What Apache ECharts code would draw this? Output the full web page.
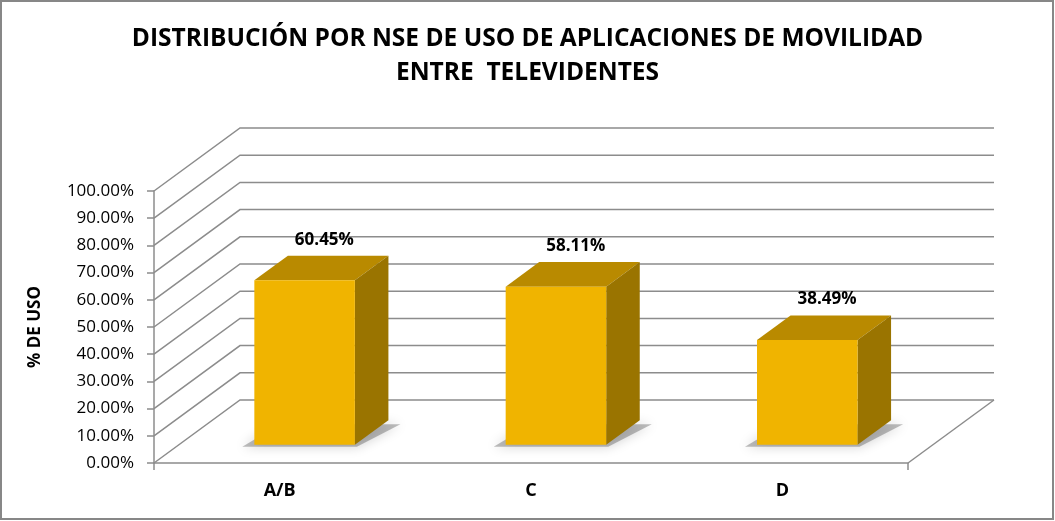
<!DOCTYPE html>
<html>
<head>
<meta charset="utf-8">
<script src="https://cdn.jsdelivr.net/npm/echarts@6/dist/echarts.min.js"></script>
<style>
  html, body { margin: 0; padding: 0; background: #fff; }
  #chart { width: 1055px; height: 521px; }
</style>
</head>
<body>
<div id="chart"></div>
<script>
// datos
var categorias = ['A/B', 'C', 'D'];
var valores = [0.6045, 0.5811, 0.3849];
var marcas = [0, 0.1, 0.2, 0.3, 0.4, 0.5, 0.6, 0.7, 0.8, 0.9, 1.0];

// perspectiva 3D (px)
var DX = 86, DY = -63;
var F1 = 0.29, F2 = 0.68;
var FONT = '"Open Sans", sans-serif';

var chart = echarts.init(document.getElementById('chart'));

// paredes y lineas de division
function renderGrid(params, api) {
  var v = api.value(0);
  var band = api.size([1, 0])[0];
  var p = api.coord([0, v]);
  var pEnd = api.coord([categorias.length - 1, v]);
  var x0 = p[0] - band / 2;
  var x1 = pEnd[0] + band / 2;
  var y = p[1];
  var line = { fill: null, stroke: '#8c8c8c', lineWidth: 1.5 };
  var children = [{
    type: 'polyline',
    shape: { points: [[x0, y], [x0 + DX, y + DY], [x1 + DX, y + DY]] },
    style: line
  }];
  if (v === 0) {
    children.push({
      type: 'line',
      shape: { x1: x1, y1: y, x2: x1 + DX, y2: y + DY },
      style: line
    });
    children.push({
      type: 'line',
      shape: { x1: x1, y1: y, x2: x1, y2: y + 7 },
      style: line
    });
    children.push({
      type: 'line',
      shape: { x1: x0, y1: y, x2: x0, y2: y + 7 },
      style: line
    });
  }
  return { type: 'group', children: children };
}

// barras 3D
function renderBar(params, api) {
  var idx = api.value(0);
  var val = api.value(1);
  var band = api.size([1, 0])[0];
  var top = api.coord([idx, val]);
  var base = api.coord([idx, 0]);
  var hw = band * 0.2;
  var xl = top[0] - hw + F1 * DX;
  var xr = top[0] + hw + F1 * DX;
  var yt = top[1] + F1 * DY;
  var yb = base[1] + F1 * DY;
  var ddx = (F2 - F1) * DX, ddy = (F2 - F1) * DY;
  return {
    type: 'group',
    children: [{
      // sombra sobre el piso
      type: 'polygon',
      shape: { points: [[xl - 12, yb + 2], [xr + 2, yb + 2], [xr + ddx + 12, yb + ddy + 4], [xl + ddx - 8, yb + ddy + 4]] },
      style: { fill: 'rgba(40,40,40,0.3)', shadowBlur: 12, shadowColor: 'rgba(0,0,0,0.6)' }
    }, {
      type: 'polygon',
      shape: { points: [[xl, yt], [xr, yt], [xr + ddx, yt + ddy], [xl + ddx, yt + ddy]] },
      style: { fill: '#b98a00' }
    }, {
      type: 'polygon',
      shape: { points: [[xr, yt], [xr + ddx, yt + ddy], [xr + ddx, yb + ddy], [xr, yb]] },
      style: { fill: '#9a7400' }
    }, {
      type: 'rect',
      shape: { x: xl, y: yt, width: xr - xl, height: yb - yt },
      style: { fill: '#f0b400' }
    }, {
      type: 'text',
      x: (xl + xr) / 2 + ddx / 2 + 3,
      y: yt + ddy - 16,
      style: {
        text: (val * 100).toFixed(2) + '%',
        fill: '#000',
        font: 'bold 17px ' + FONT,
        align: 'center',
        verticalAlign: 'middle'
      }
    }]
  };
}

var option = {
  backgroundColor: '#fff',
  animation: false,
  title: {
    text: 'DISTRIBUCIÓN POR NSE DE USO DE APLICACIONES DE MOVILIDAD\nENTRE  TELEVIDENTES',
    left: 'center',
    top: 17,
    textStyle: {
      fontFamily: FONT,
      fontWeight: 'bold',
      fontSize: 24.5,
      lineHeight: 34,
      color: '#000'
    }
  },
  graphic: [{
    type: 'rect',
    shape: { x: 1, y: 1, width: 1052, height: 518 },
    style: { fill: 'none', stroke: '#878787', lineWidth: 2 },
    silent: true
  }],
  grid: { left: 154, right: 147, top: 191, bottom: 58 },
  xAxis: {
    type: 'category',
    data: categorias,
    axisLine: { lineStyle: { color: '#8c8c8c', width: 1.5 } },
    axisTick: { show: false },
    axisLabel: {
      margin: 19,
      color: '#000',
      fontFamily: FONT,
      fontWeight: 'bold',
      fontSize: 18
    }
  },
  yAxis: {
    type: 'value',
    min: 0,
    max: 1,
    interval: 0.1,
    name: '% DE USO',
    nameLocation: 'middle',
    nameGap: 110,
    nameTextStyle: {
      color: '#000',
      fontFamily: FONT,
      fontWeight: 'bold',
      fontSize: 17
    },
    axisLine: { show: true, lineStyle: { color: '#8c8c8c', width: 1.5 } },
    axisTick: { show: true, length: 7, lineStyle: { color: '#8c8c8c', width: 1.5 } },
    splitLine: { show: false },
    axisLabel: {
      margin: 20,
      color: '#000',
      fontFamily: FONT,
      fontSize: 17,
      formatter: function (v) { return (v * 100).toFixed(2) + '%'; }
    }
  },
  series: [{
    type: 'custom',
    name: 'rejilla',
    renderItem: renderGrid,
    data: marcas.map(function (m) { return [m]; }),
    encode: { y: 0 },
    silent: true,
    z: 1
  }, {
    type: 'custom',
    name: '% DE USO',
    renderItem: renderBar,
    data: valores.map(function (v, i) { return [i, v]; }),
    encode: { x: 0, y: 1 },
    z: 3
  }]
};

chart.setOption(option);
window.addEventListener('resize', function () {
  chart.resize();
});
</script>
</body>
</html>
